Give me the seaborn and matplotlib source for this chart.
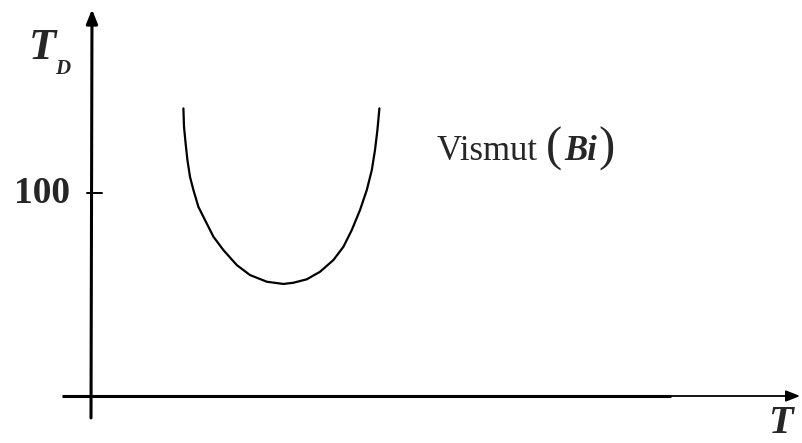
import matplotlib
matplotlib.use("Agg")
import matplotlib.pyplot as plt
import seaborn as sns
import pandas as pd
from matplotlib.transforms import offset_copy

# Debye temperature of bismuth versus temperature (schematic curve)
temperature = [46.2, 46.5, 47.3, 48.2, 49.5, 51.2, 53.7, 57.0, 61.2, 66.2, 72.9, 79.5, 87.9,
               96.2, 101.2, 107.9, 114.5, 121.2, 126.2, 130.4, 134.5, 137.9, 140.4, 142.0,
               143.2, 144.2]
debye_temp = [141.7, 132.7, 124.5, 116.3, 108.0, 101.5, 93.2, 86.7, 78.5, 71.9, 64.5, 59.6, 56.3,
              55.2, 55.8, 57.5, 61.2, 67.0, 73.5, 81.8, 91.6, 101.5, 111.3, 121.2,
              131.0, 141.7]

y_tick_values = [100]
y_tick_labels = ["100"]
curve_name = "Vismut"
curve_symbol = "Bi"
y_label_main, y_label_sub = "T", "D"
x_label = "T"

sns.set_theme(style="white")
plt.rcParams["font.family"] = ["Liberation Serif", "DejaVu Serif"]

fig = plt.figure(figsize=(8.02, 4.43), dpi=100)
ax = fig.add_axes([0, 0, 1, 1])
ax.set_xlim(-45.5, 355.5)
ax.set_ylim(-23.15, 195.1)
ax.axis("off")

df = pd.DataFrame({"T": temperature, "TD": debye_temp})
sns.lineplot(data=df, x="T", y="TD", ax=ax, color="black", lw=1.6, sort=False)

head = "-|>,head_length=0.7,head_width=0.28"
# vertical axis with arrow
ax.annotate("", xy=(0.5, 190.5), xytext=(0, -10.8),
            arrowprops=dict(arrowstyle=head, color="black", lw=2.2, shrinkA=0, shrinkB=0))
# horizontal axis: heavy left part, thinner arrowed right part
ax.plot([-14.5, 290], [0, 0], color="black", lw=2.2, solid_capstyle="butt")
ax.annotate("", xy=(354.5, 0), xytext=(280, 0),
            arrowprops=dict(arrowstyle=head, color="black", lw=1.3, shrinkA=0, shrinkB=0))

# tick marks and labels on the vertical axis
for v, lab in zip(y_tick_values, y_tick_labels):
    ax.plot([-2, 5.5], [v, v], color="black", lw=1.4)
    ax.text(-10.5, v, lab, ha="right", va="center", fontsize=27, fontweight="bold")

# axis titles
ax.text(-24.5, 171.4, y_label_main, ha="center", va="center", fontsize=32,
        style="italic", fontweight="bold")
ax.text(-14.0, 161.0, y_label_sub, ha="center", va="center", fontsize=15,
        style="italic", fontweight="bold")
ax.text(344.5, -13.6, x_label, ha="center", va="center", fontsize=29,
        style="italic", fontweight="bold")

# curve annotation: name, then the element symbol in tall parentheses
fig.canvas.draw()
renderer = fig.canvas.get_renderer()
pieces = [(curve_name + " ", dict(fontsize=25)),
          ("(", dict(fontsize=35)),
          (curve_symbol, dict(fontsize=25, style="italic", fontweight="bold")),
          (")", dict(fontsize=35))]
trans = ax.transData
x0, y0 = 173, 116.2
for i, (s, kw) in enumerate(pieces):
    t = ax.text(x0, y0, s, ha="left", va="baseline", transform=trans, **kw)
    fig.canvas.draw()
    bb = t.get_window_extent(renderer)
    gap = 2 if i else 0
    trans = offset_copy(trans, fig=fig, x=(bb.width + gap) * 72 / fig.dpi, units="points")

fig.savefig("out.png", dpi=100, facecolor="white")
